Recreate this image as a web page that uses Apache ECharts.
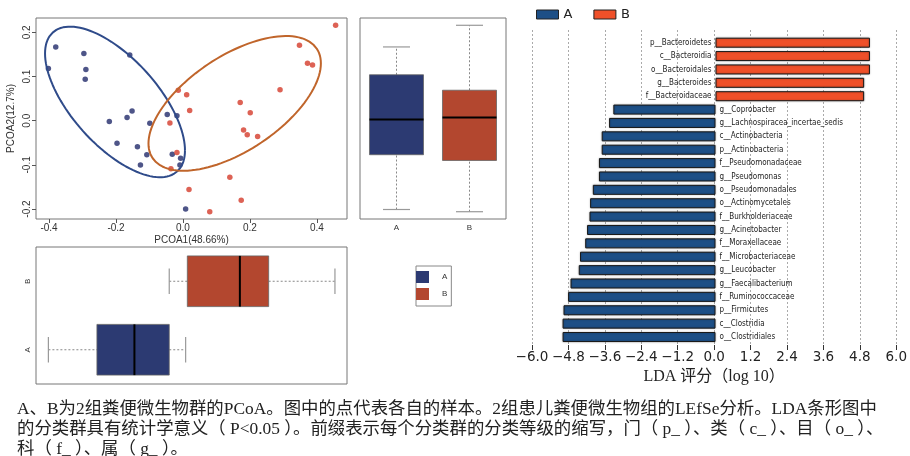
<!DOCTYPE html>
<html>
<head>
<meta charset="utf-8">
<script src="https://cdn.jsdelivr.net/npm/echarts@6/dist/echarts.min.js"></script>
<style>
html, body { margin: 0; padding: 0; background: #fff; }
#main { width: 910px; height: 456px; }
</style>
</head>
<body>
<div id="main"></div>
<script>
// PCoA sample coordinates [PCOA1, PCOA2]
const pointsA = [
  [-0.380, 0.167], [-0.402, 0.118], [-0.296, 0.152], [-0.290, 0.116], [-0.292, 0.094],
  [-0.159, 0.149], [-0.152, 0.022], [-0.167, 0.007], [-0.220, -0.002], [-0.099, -0.006],
  [-0.047, 0.014], [-0.018, 0.011], [-0.197, -0.051], [-0.136, -0.059], [-0.108, -0.077],
  [-0.127, -0.100], [-0.032, -0.076], [-0.007, -0.085], [-0.009, -0.100], [0.008, -0.200]
]
const pointsB = [
  [0.456, 0.216], [0.348, 0.171], [0.372, 0.130], [0.387, 0.126], [0.290, 0.070],
  [-0.014, 0.069], [0.011, 0.059], [0.020, 0.023], [0.171, 0.041], [0.201, 0.018],
  [-0.039, -0.005], [0.181, -0.021], [0.192, -0.032], [0.223, -0.036], [-0.018, -0.072],
  [-0.036, -0.109], [0.140, -0.128], [0.018, -0.156], [0.174, -0.180], [0.080, -0.206]
]
// group ellipses: centre, half extents in x / y, phase (deg) giving the tilt
const ellipseA = [-0.203, 0.0425, 0.209, 0.1705, 130]
const ellipseB = [0.1545, 0.0392, 0.2575, 0.1525, 53.5]

// box summaries [min, Q1, median, Q3, max]
const groups = ['A', 'B']
const pc2Box = [[-0.201, -0.077, 0.003, 0.104, 0.167], [-0.206, -0.090, 0.007, 0.069, 0.216]]
const pc1Box = [[-0.402, -0.257, -0.145, -0.041, 0.008], [-0.041, 0.013, 0.170, 0.256, 0.454]]

const xTicks = [-0.4, -0.2, 0, 0.2, 0.4]
const yTicks = [-0.2, -0.1, 0, 0.1, 0.2]

// LEfSe LDA
const ldaTaxa = [
  'p__Bacteroidetes', 'c__Bacteroidia', 'o__Bacteroidales', 'g__Bacteroides', 'f__Bacteroidaceae',
  'g__Coprobacter', 'g__Lachnospiracea_incertae_sedis', 'c__Actinobacteria', 'p__Actinobacteria',
  'f__Pseudomonadaceae', 'g__Pseudomonas', 'o__Pseudomonadales', 'o__Actinomycetales',
  'f__Burkholderiaceae', 'g__Acinetobacter', 'f__Moraxellaceae', 'f__Microbacteriaceae',
  'g__Leucobacter', 'g__Faecalibacterium', 'f__Ruminococcaceae', 'p__Firmicutes',
  'c__Clostridia', 'o__Clostridiales'
]
const ldaGroup = ['B', 'B', 'B', 'B', 'B', 'A', 'A', 'A', 'A', 'A', 'A', 'A', 'A', 'A', 'A', 'A', 'A', 'A', 'A', 'A', 'A', 'A', 'A']
const ldaScores = [
  5.05, 5.05, 5.05, 4.86, 4.86,
  -3.34, -3.48, -3.72, -3.72, -3.81, -3.81, -4.01, -4.10, -4.12, -4.20, -4.26,
  -4.43, -4.47, -4.74, -4.82, -4.97, -5.00, -5.00
]

const caption = [
  'A、B为2组粪便微生物群的PCoA。图中的点代表各自的样本。2组患儿粪便微生物组的LEfSe分析。LDA条形图中',
  '的分类群具有统计学意义（ P<0.05 ）。前缀表示每个分类群的分类等级的缩写，门（ p_ ）、类（ c_ ）、目（ o_ ）、',
  '科（ f_ ）、属（ g_ ）。'
]

const dotColors = ['#222a6a', '#d43b2a']
const ringColors = ['#2f4b8a', '#c0652b']
const boxColors = ['#2c3a72', '#b3472f']
const barColors = ['#1d4f86', '#ef5029']

const xRange = [-0.439, 0.49]
const yRange = [-0.2225, 0.2325]

const ellipsePath = function (e) {
  const [cx, cy, rx, ry, ph] = e
  const out = []
  for (let i = 0; i <= 120; i++) {
    const t = i / 120 * Math.PI * 2
    out.push([cx + rx * Math.cos(t), cy + ry * Math.cos(t - ph * Math.PI / 180)])
  }
  return out
}

const boxRender = function (horizontal) {
  return function (params, api) {
    const cat = api.value(0)
    const v = [1, 2, 3, 4, 5].map(i => api.value(i))
    const band = horizontal ? api.size([0, 1])[1] : api.size([1, 0])[0]
    const half = band * 0.37
    const cap = half * 0.5
    const p = val => horizontal ? api.coord([val, cat]) : api.coord([cat, val])
    const seg = (val, h) => {
      const c = p(val)
      return horizontal
        ? { x1: c[0], y1: c[1] - h, x2: c[0], y2: c[1] + h }
        : { x1: c[0] - h, y1: c[1], x2: c[0] + h, y2: c[1] }
    }
    const link = (a, b) => {
      const c1 = p(a), c2 = p(b)
      return { x1: c1[0], y1: c1[1], x2: c2[0], y2: c2[1] }
    }
    const q1 = p(v[1]), q3 = p(v[3])
    const rect = horizontal
      ? { x: q1[0], y: q1[1] - half, width: q3[0] - q1[0], height: half * 2 }
      : { x: q3[0] - half, y: q3[1], width: half * 2, height: q1[1] - q3[1] }
    const dash = { stroke: '#888', lineWidth: 1, lineDash: [2, 2] }
    const solid = { stroke: '#999', lineWidth: 1.2 }
    return {
      type: 'group',
      children: [
        { type: 'line', shape: link(v[0], v[1]), style: dash },
        { type: 'line', shape: link(v[3], v[4]), style: dash },
        { type: 'line', shape: seg(v[0], cap), style: solid },
        { type: 'line', shape: seg(v[4], cap), style: solid },
        { type: 'rect', shape: rect, style: { fill: boxColors[cat], stroke: '#666', lineWidth: 0.8 } },
        { type: 'line', shape: seg(v[2], half), style: { stroke: '#000', lineWidth: 2 } }
      ]
    }
  }
}

const rFont = { fontFamily: 'Liberation Sans', color: '#333' }
const ldaFmt = v => (v < 0 ? '\u2212' : '') + Math.abs(v).toFixed(1)
const noLine = { show: false, onZero: false }

const option = {
  animation: false,
  title: {
    text: caption.join('\n'),
    left: 12, top: 394,
    textStyle: { fontFamily: 'Liberation Serif, Noto Sans CJK SC', fontSize: 17.4, lineHeight: 20, fontWeight: 'normal', color: '#222' }
  },
  legend: [
    {
      data: groups.map((g, i) => ({ name: g, itemStyle: { color: barColors[i], borderColor: '#222', borderWidth: 1 } })),
      left: 536, top: 8, padding: 0, icon: 'rect', itemWidth: 22, itemHeight: 9, itemGap: 21,
      selectedMode: false,
      textStyle: { fontFamily: 'DejaVu Sans', fontSize: 13, color: '#222' }
    },
    {
      data: groups.map((g, i) => ({ name: g, itemStyle: { color: boxColors[i], borderWidth: 0 } })),
      left: 416, top: 266, orient: 'vertical', icon: 'rect', itemWidth: 13, itemHeight: 12, itemGap: 5,
      padding: [5, 4, 6, 0], borderColor: '#888', borderWidth: 1,
      selectedMode: false,
      textStyle: { fontFamily: 'Liberation Sans', fontSize: 8, color: '#333', padding: [0, 0, 0, 8] }
    }
  ],
  grid: [
    { left: 36, right: 563, top: 18, bottom: 237, show: true, borderColor: '#777', borderWidth: 1 },
    { left: 360, right: 404, top: 18, bottom: 237, show: true, borderColor: '#777', borderWidth: 1 },
    { left: 36, right: 563, top: 247, bottom: 72, show: true, borderColor: '#777', borderWidth: 1 },
    { left: 532, right: 11, top: 30, bottom: 111 },
    { left: 532, right: 11, top: 36, bottom: 112.3 }
  ],
  xAxis: [
    {
      gridIndex: 0, type: 'value', min: xRange[0], max: xRange[1],
      axisLine: noLine, splitLine: { show: false },
      axisTick: { customValues: xTicks, length: 4, lineStyle: { color: '#555' } },
      axisLabel: { customValues: xTicks, formatter: v => v.toFixed(1), fontSize: 10, margin: 4, ...rFont },
      name: 'PCOA1(48.66%)', nameLocation: 'middle', nameGap: 16,
      nameTextStyle: { fontSize: 10, ...rFont }
    },
    {
      gridIndex: 1, type: 'category', data: groups,
      axisLine: noLine,
      axisTick: { alignWithLabel: true, length: 4, lineStyle: { color: '#555' } },
      axisLabel: { fontSize: 8, margin: 5, ...rFont }
    },
    { gridIndex: 2, type: 'value', min: xRange[0], max: xRange[1], show: false, axisLine: noLine },
    {
      gridIndex: 3, type: 'value', min: -6, max: 6, interval: 1.2,
      axisLine: noLine,
      axisTick: { length: 5, lineStyle: { color: '#333' } },
      splitLine: { show: true, lineStyle: { color: '#aaa', type: [2, 2] } },
      axisLabel: { formatter: ldaFmt, fontFamily: 'DejaVu Sans', fontSize: 13.5, color: '#222', margin: 5 },
      name: 'LDA 评分（log 10）', nameLocation: 'middle', nameGap: 24,
      nameTextStyle: { fontFamily: 'Liberation Serif, Noto Sans CJK SC', fontSize: 16, color: '#222' }
    },
    { gridIndex: 4, type: 'value', min: -6, max: 6, show: false, axisLine: noLine }
  ],
  yAxis: [
    {
      gridIndex: 0, type: 'value', min: yRange[0], max: yRange[1],
      axisLine: noLine, splitLine: { show: false },
      axisTick: { customValues: yTicks, length: 4, lineStyle: { color: '#555' } },
      axisLabel: { customValues: yTicks, formatter: v => v.toFixed(1), rotate: 90, fontSize: 10, margin: 4, ...rFont },
      name: 'PCOA2(12.7%)', nameLocation: 'middle', nameGap: 20,
      nameTextStyle: { fontSize: 10, ...rFont }
    },
    { gridIndex: 1, type: 'value', min: yRange[0], max: yRange[1], show: false, axisLine: noLine },
    {
      gridIndex: 2, type: 'category', data: groups,
      axisLine: noLine,
      axisTick: { alignWithLabel: true, length: 4, lineStyle: { color: '#555' } },
      axisLabel: { rotate: 90, fontSize: 8, margin: 4, ...rFont }
    },
    { gridIndex: 3, type: 'value', show: false, axisLine: noLine },
    { gridIndex: 4, type: 'category', data: ldaTaxa, inverse: true, show: false, axisLine: noLine }
  ],
  series: [
    {
      name: 'A', type: 'line', xAxisIndex: 0, yAxisIndex: 0, data: ellipsePath(ellipseA),
      symbol: 'none', lineStyle: { color: ringColors[0], width: 2 }, silent: true
    },
    {
      name: 'B', type: 'line', xAxisIndex: 0, yAxisIndex: 0, data: ellipsePath(ellipseB),
      symbol: 'none', lineStyle: { color: ringColors[1], width: 2 }, silent: true
    },
    {
      name: 'A', type: 'scatter', xAxisIndex: 0, yAxisIndex: 0, data: pointsA,
      symbolSize: 5.5, itemStyle: { color: dotColors[0] }
    },
    {
      name: 'B', type: 'scatter', xAxisIndex: 0, yAxisIndex: 0, data: pointsB,
      symbolSize: 5.5, itemStyle: { color: dotColors[1] }
    },
    {
      type: 'custom', xAxisIndex: 1, yAxisIndex: 1,
      data: pc2Box.map((b, i) => [i, ...b]),
      encode: { x: 0, y: [1, 2, 3, 4, 5] },
      renderItem: boxRender(false)
    },
    {
      type: 'custom', xAxisIndex: 2, yAxisIndex: 2,
      data: pc1Box.map((b, i) => [i, ...b]),
      encode: { y: 0, x: [1, 2, 3, 4, 5] },
      renderItem: boxRender(true)
    },
    {
      name: 'A', type: 'bar', xAxisIndex: 4, yAxisIndex: 4, barWidth: 10, barGap: '-100%',
      data: ldaScores.map((s, i) => ldaGroup[i] === 'A' ? s : '-'),
      itemStyle: { color: barColors[0], borderColor: '#1a1a1a', borderWidth: 1, shadowColor: 'rgba(0,0,0,0.3)', shadowBlur: 2 },
      label: {
        show: true, position: 'right', distance: 4, formatter: p => p.name,
        fontFamily: 'DejaVu Sans Condensed, DejaVu Sans', fontSize: 8, color: '#222'
      }
    },
    {
      name: 'B', type: 'bar', xAxisIndex: 4, yAxisIndex: 4, barWidth: 10, barGap: '-100%',
      data: ldaScores.map((s, i) => ldaGroup[i] === 'B' ? s : '-'),
      itemStyle: { color: barColors[1], borderColor: '#1a1a1a', borderWidth: 1, shadowColor: 'rgba(0,0,0,0.3)', shadowBlur: 2 },
      label: {
        show: true, position: 'left', distance: 4, formatter: p => p.name,
        fontFamily: 'DejaVu Sans Condensed, DejaVu Sans', fontSize: 8, color: '#222'
      }
    }
  ]
}

const chart = echarts.init(document.getElementById('main'))
chart.setOption(option)
</script>
</body>
</html>
